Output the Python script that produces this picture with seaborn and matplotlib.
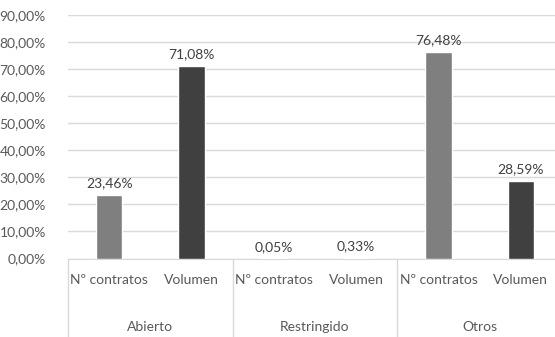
import matplotlib
matplotlib.use("Agg")
import matplotlib.pyplot as plt
import seaborn as sns
import pandas as pd

groups = ["Abierto", "Restringido", "Otros"]
metrics = ["Nº contratos", "Volumen"]
values = [23.46, 71.08, 0.05, 0.33, 76.48, 28.59]
y_ticks = [0, 10, 20, 30, 40, 50, 60, 70, 80, 90]

TXT = "#595959"
GRID = "#d9d9d9"
colors = {"Nº contratos": "#7f7f7f", "Volumen": "#404040"}

rows = []
for gi, g in enumerate(groups):
    for mi, m in enumerate(metrics):
        rows.append({"key": f"{g}|{m}", "group": g, "metric": m, "value": values[gi * 2 + mi]})
df = pd.DataFrame(rows)

sns.set_style("white")
plt.rcParams["font.family"] = ["Lato", "DejaVu Sans"]

fig = plt.figure(figsize=(5.55, 3.37), dpi=100)
ax = fig.add_axes([68 / 555, 1 - 258.5 / 337, 494 / 555, (258.5 - 15) / 337])

sns.barplot(data=df, x="key", y="value", hue="metric", palette=colors,
            dodge=False, width=0.32, legend=False, ax=ax, zorder=3)

ax.set_ylim(0, 90)
ax.set_xlim(-0.5, len(df) - 0.5)
ax.set_yticks(y_ticks)
ax.set_yticklabels([f"{v:.2f}%".replace(".", ",") for v in y_ticks], color=TXT, fontsize=10)
ax.yaxis.grid(True, color=GRID, linewidth=1, zorder=0)
ax.set_axisbelow(True)
for s in ["top", "right", "left"]:
    ax.spines[s].set_visible(False)
ax.spines["bottom"].set_color(GRID)
ax.tick_params(axis="y", length=0, pad=16)
ax.set_xlabel("")
ax.set_ylabel("")

# data labels
for i, v in enumerate(df["value"]):
    ax.annotate(f"{v:.2f}%".replace(".", ","), (i, v), xytext=(0, 4),
                textcoords="offset points", ha="center", va="bottom",
                color="#404040", fontsize=10)

# sub labels
ax.set_xticks(range(len(df)))
ax.set_xticklabels(df["metric"], color=TXT, fontsize=10)
ax.tick_params(axis="x", length=0, pad=11)

# group labels and separators (axis coordinates below plot)
trans = ax.get_xaxis_transform()
for gi, g in enumerate(groups):
    ax.text(gi * 2 + 0.5, -0.28, g, transform=trans, ha="center", va="center",
            color=TXT, fontsize=10)
for b in [-0.5, 1.5, 3.5, 5.5]:
    ax.plot([b, b], [0, -0.5], transform=trans, color=GRID, linewidth=1, clip_on=False)

fig.savefig("out.png", dpi=100)
